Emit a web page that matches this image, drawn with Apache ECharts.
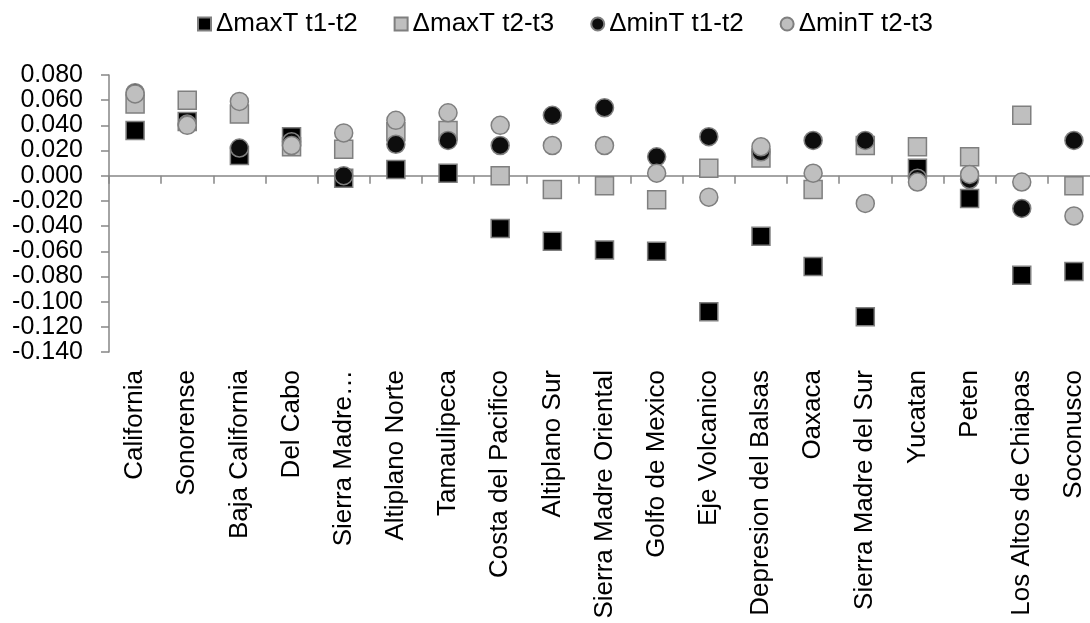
<!DOCTYPE html>
<html>
<head>
<meta charset="utf-8">
<script src="https://cdn.jsdelivr.net/npm/echarts@6/dist/echarts.min.js"></script>
<style>
  html, body { margin: 0; padding: 0; background: #fff; }
  #chart { width: 1090px; height: 623px; }
</style>
</head>
<body>
<div id="chart"></div>
<script>
// Ecoregions (x axis categories)
const categories = [
  'California', 'Sonorense', 'Baja California', 'Del Cabo', 'Sierra Madre…',
  'Altiplano Norte', 'Tamaulipeca', 'Costa del Pacifico', 'Altiplano Sur',
  'Sierra Madre Oriental', 'Golfo de Mexico', 'Eje Volcanico',
  'Depresion del Balsas', 'Oaxaca', 'Sierra Madre del Sur', 'Yucatan',
  'Peten', 'Los Altos de Chiapas', 'Soconusco'
];

// Change in maximum temperature, period t1 -> t2
const dMaxT12 = [0.036, 0.043, 0.016, 0.031, -0.002, 0.005, 0.002, -0.042, -0.052, -0.059,
                 -0.060, -0.108, -0.048, -0.072, -0.112, 0.006, -0.018, -0.079, -0.076];
// Change in maximum temperature, period t2 -> t3
const dMaxT23 = [0.057, 0.060, 0.049, 0.023, 0.021, 0.035, 0.036, 0.000, -0.011, -0.008,
                 -0.019, 0.006, 0.014, -0.011, 0.024, 0.023, 0.015, 0.048, -0.008];
// Change in minimum temperature, period t1 -> t2
const dMinT12 = [0.066, 0.041, 0.022, 0.027, 0.000, 0.025, 0.028, 0.024, 0.048, 0.054,
                 0.015, 0.031, 0.019, 0.028, 0.028, -0.002, -0.003, -0.026, 0.028];
// Change in minimum temperature, period t2 -> t3
const dMinT23 = [0.065, 0.040, 0.059, 0.024, 0.034, 0.044, 0.050, 0.040, 0.024, 0.024,
                 0.002, -0.017, 0.023, 0.002, -0.022, -0.005, 0.001, -0.005, -0.032];

const seriesNames = ['ΔmaxT t1-t2', 'ΔmaxT t2-t3', 'ΔminT t1-t2', 'ΔminT t2-t3'];

const FONT = '"Liberation Sans", Arial, sans-serif';
const AXIS_GREY = '#868686';
const EDGE_GREY = '#7f7f7f';

function scatter(name, data, symbol, fill) {
  return {
    name: name,
    type: 'scatter',
    data: data,
    symbol: symbol,
    symbolSize: 18,
    itemStyle: { color: fill, borderColor: EDGE_GREY, borderWidth: 1.5, opacity: 1 },
    emphasis: { disabled: true }
  };
}

const chart = echarts.init(document.getElementById('chart'), null, { renderer: 'canvas' });

chart.setOption({
  animation: false,
  backgroundColor: '#ffffff',
  textStyle: { fontFamily: FONT },
  legend: {
    left: 192,
    top: 6,
    itemWidth: 13,
    itemHeight: 13,
    itemGap: 36,
    textStyle: { fontFamily: FONT, fontSize: 26, color: '#000' },
    data: seriesNames
  },
  grid: { left: 109, right: -10, top: 75, bottom: 271, outerBoundsMode: 'none', containLabel: false },
  xAxis: {
    type: 'category',
    data: categories,
    boundaryGap: true,
    axisLine: { onZero: true, lineStyle: { color: AXIS_GREY, width: 1.5 } },
    axisTick: { show: true, length: 8, alignWithLabel: false, lineStyle: { color: AXIS_GREY, width: 1.5 } },
    // category names sit below the plot area, not beside the zero line
    axisLabel: {
      rotate: 90,
      margin: 18,
      interval: 0,
      hideOverlap: false,
      padding: [6, 0, 0, 0],
      fontFamily: FONT,
      fontSize: 26,
      color: '#000'
    },
    splitLine: { show: false }
  },
  yAxis: {
    type: 'value',
    min: -0.14,
    max: 0.08,
    interval: 0.02,
    axisLine: { show: true, lineStyle: { color: AXIS_GREY, width: 1.5 } },
    axisTick: { show: true, length: 8, lineStyle: { color: AXIS_GREY, width: 1.5 } },
    axisLabel: {
      margin: 26,
      fontFamily: FONT,
      fontSize: 25,
      color: '#000',
      formatter: function (v) { return (Math.abs(v) < 1e-9 ? 0 : v).toFixed(3); }
    },
    splitLine: { show: false }
  },
  series: [
    scatter(seriesNames[0], dMaxT12, 'rect', '#000000'),
    scatter(seriesNames[1], dMaxT23, 'rect', '#bfbfbf'),
    scatter(seriesNames[2], dMinT12, 'circle', '#0d0d0d'),
    scatter(seriesNames[3], dMinT23, 'circle', '#bfbfbf')
  ]
});
</script>
</body>
</html>
